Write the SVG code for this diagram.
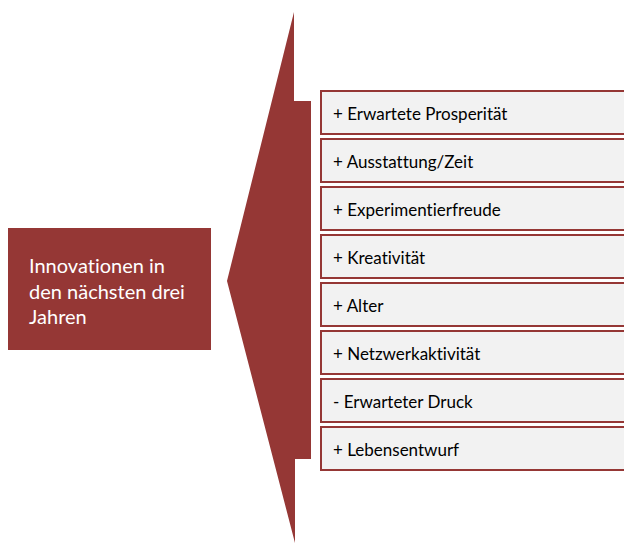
<svg xmlns="http://www.w3.org/2000/svg" width="624" height="544" viewBox="0 0 624 544">
<style>
.red{fill:#953735}
.box rect{fill:#f2f2f2;stroke:#953735;stroke-width:2}
text{font-variant-ligatures:none}
.box text{font-family:Lato,"Liberation Sans",sans-serif;font-size:17px;fill:#000}
.main text{font-family:Lato,"Liberation Sans",sans-serif;font-size:20px;fill:#fff}
</style>
<rect width="624" height="544" fill="#fff"/>
<g id="arrow">
<polygon class="red" points="294,12 294,101 311,101 311,459 295,459 295,543 227,281"/>
</g>
<g id="main" class="main">
<rect class="red" x="8" y="228" width="203" height="122"/>
<text x="29" y="273">Innovationen in</text>
<text x="29" y="298.5">den nächsten drei</text>
<text x="29" y="324">Jahren</text>
</g>
<g id="connectors"></g>
<g id="n1" class="box"><rect x="321" y="91" width="310" height="43"/><text x="333" y="119.5">+ Erwartete Prosperität</text></g>
<g id="n2" class="box"><rect x="321" y="139" width="310" height="43"/><text x="333" y="167.5">+ Ausstattung/Zeit</text></g>
<g id="n3" class="box"><rect x="321" y="187" width="310" height="43"/><text x="333" y="215.5">+ Experimentierfreude</text></g>
<g id="n4" class="box"><rect x="321" y="235" width="310" height="43"/><text x="333" y="263.5">+ Kreativität</text></g>
<g id="n5" class="box"><rect x="321" y="283" width="310" height="43"/><text x="333" y="311.5">+ Alter</text></g>
<g id="n6" class="box"><rect x="321" y="331" width="310" height="43"/><text x="333" y="359.5">+ Netzwerkaktivität</text></g>
<g id="n7" class="box"><rect x="321" y="379" width="310" height="43"/><text x="333" y="407.5">- Erwarteter Druck</text></g>
<g id="n8" class="box"><rect x="321" y="427" width="310" height="43"/><text x="333" y="455.5">+ Lebensentwurf</text></g>
</svg>
